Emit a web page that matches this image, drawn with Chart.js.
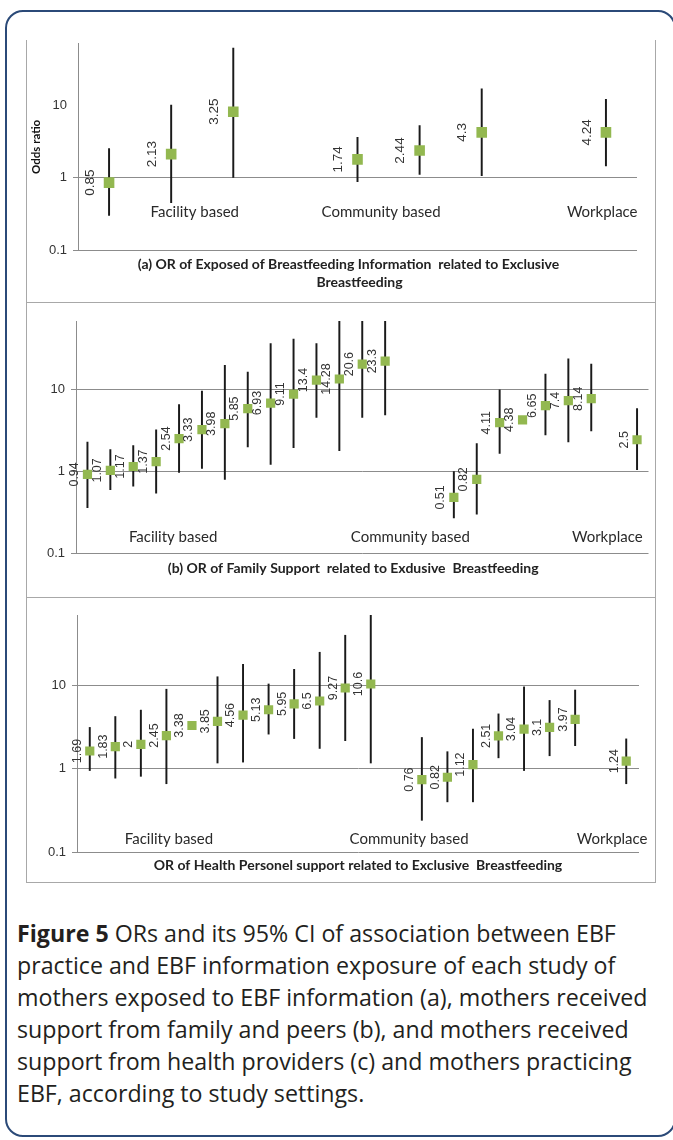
<!DOCTYPE html>
<html>
<head>
<meta charset="utf-8">
<script src="https://cdn.jsdelivr.net/npm/chart.js"></script>
<style>
  body { margin: 0; background: #fff; width: 673px; height: 1140px; overflow: hidden; position: relative; }
  .card { position: absolute; left: 5px; top: 10px; width: 671px; height: 1127px; box-sizing: border-box;
          border: 2px solid #2b4a78; border-radius: 18px; }
  .box { position: absolute; left: 26px; width: 630px; box-sizing: border-box; border: 1px solid #a8a8a8; }
  canvas { position: absolute; }
  .caption { position: absolute; left: 17px; top: 917px; font-family: "Open Sans", Lato, sans-serif; font-size: 23.2px;
             line-height: 32px; color: #231f20; white-space: nowrap; }
</style>
</head>
<body>
<div class="card"></div>
<div class="box" style="top:40px;height:263px;border-top:none"></div>
<div class="box" style="top:302px;height:296px"></div>
<div class="box" style="top:597px;height:286px"></div>
<canvas id="chartA" width="629" height="272" style="left:26px;top:30px"></canvas>
<canvas id="chartB" width="629" height="294" style="left:26px;top:303px"></canvas>
<canvas id="chartC" width="629" height="284" style="left:26px;top:598px"></canvas>
<div class="caption"><b>Figure 5</b> ORs and its 95% CI of association between EBF<br>practice and EBF information exposure of each study of<br>mothers exposed to EBF information (a), mothers received<br>support from family and peers (b), and mothers received<br>support from health providers (c) and mothers practicing<br>EBF, according to study settings.</div>
<script>
// (a) exposure to breastfeeding information
var aStudies = ['F1', 'F2', 'F3', '', 'C1', 'C2', 'C3', '', 'W1'];
var aOR   = [0.85, 2.1, 8.1, null, 1.78, 2.36, 4.2, null, 4.2];
var aLow  = [0.30, 0.45, 1.0, null, 0.88, 1.1, 1.06, null, 1.45];
var aHigh = [2.5, 10, 61, null, 3.6, 5.2, 16.8, null, 12];
var aText = ['0.85', '2.13', '3.25', '', '1.74', '2.44', '4.3', '', '4.24'];

// (b) family support
var bStudies = ['F1','F2','F3','F4','F5','F6','F7','F8','F9','F10','F11','F12','F13','F14','','',
                'C1','C2','C3','C4','C5','C6','C7','','W1'];
var bOR   = [0.92, 1.03, 1.15, 1.32, 2.53, 3.25, 3.85, 5.9, 6.9, 8.9, 13.2, 13.6, 20.7, 22.5, null, null,
             0.48, 0.80, 3.96, 4.3, 6.4, 7.4, 7.8, null, 2.45];
var bLow  = [0.36, 0.60, 0.66, 0.54, 0.97, 1.09, 0.80, 2.0, 1.22, 1.96, 4.6, 1.8, 4.6, 4.95, null, null,
             0.27, 0.30, 1.66, 4.0, 2.8, 2.3, 3.15, null, 1.05];
var bHigh = [2.3, 1.85, 2.07, 3.25, 6.6, 9.7, 20, 16.6, 37, 42, 37, 70, 70, 70, null, null,
             1.0, 2.2, 10, 4.7, 15.6, 24, 20.7, null, 5.9];
var bText = ['0.94','1.07','1.17','1.37','2.54','3.33','3.98','5.85','6.93','9.11','13.4','14.28','20.6','23.3','','',
             '0.51','0.82','4.11','4.38','6.65','7.4','8.14','','2.5'];

// (c) health personnel support
var cStudies = ['F1','F2','F3','F4','F5','F6','F7','F8','F9','F10','F11','F12','',
                'C1','C2','C3','C4','C5','C6','C7','','W1'];
var cOR   = [1.63, 1.84, 1.96, 2.5, 3.3, 3.7, 4.4, 5.1, 6.0, 6.5, 9.3, 10.4, null,
             0.74, 0.79, 1.12, 2.48, 2.99, 3.13, 3.9, null, 1.23];
var cLow  = [0.95, 0.77, 0.81, 0.66, 3.0, 1.17, 1.2, 2.6, 2.3, 1.75, 2.17, 1.17, null,
             0.24, 0.40, 0.40, 1.35, 0.95, 1.43, 1.89, null, 0.66];
var cHigh = [3.13, 4.23, 5.05, 9.0, 3.6, 12.7, 17.9, 10.4, 15.6, 25, 40, 70, null,
             2.37, 1.6, 2.99, 4.55, 9.6, 6.6, 8.8, null, 2.28];
var cText = ['1.69','1.83','2','2.45','3.38','3.85','4.56','5.13','5.95','6.5','9.27','10.6','',
             '0.76','0.82','1.12','2.51','3.04','3.1','3.97','','1.24'];

var yTicks = [0.1, 1, 10];

// draws the rotated value labels, setting names and panel title
var panelText = {
    id: 'panelText',
    afterDatasetsDraw: function(chart, args, opts) {
        var ctx = chart.ctx, area = chart.chartArea;
        var x = chart.scales.x, y = chart.scales.y;
        ctx.save();
        ctx.fillStyle = '#333';
        ctx.font = opts.labelFont;
        ctx.textAlign = 'center';
        ctx.textBaseline = 'middle';
        chart.getDatasetMeta(0).data.forEach(function(pt, i) {
            var t = opts.texts[i];
            if (!t) return;
            ctx.save();
            ctx.translate(pt.x - opts.labelOffset, pt.y);
            ctx.rotate(-Math.PI / 2);
            ctx.fillText(t, 0, 0);
            ctx.restore();
        });
        ctx.fillStyle = '#2a2a2a';
        ctx.font = '15px Lato';
        opts.groups.forEach(function(g) {
            ctx.fillText(g.text, x.getPixelForValue(g.at), y.getPixelForValue(g.value));
        });
        ctx.fillStyle = '#222';
        ctx.font = 'bold 14px Lato';
        opts.title.forEach(function(line, k) {
            ctx.fillText(line, (area.left + area.right) / 2 + opts.titleDx[k], area.bottom + opts.titleDy + k * 18);
        });
        ctx.restore();
    }
};

function makePanel(id, p) {
    var ctx = document.getElementById(id).getContext('2d');
    return new Chart(ctx, {
        type: 'bar',
        data: {
            labels: p.labels,
            datasets: [{
                type: 'line',
                label: 'OR',
                data: p.or,
                showLine: false,
                pointStyle: 'rect',
                pointRadius: p.r,
                pointHoverRadius: p.r,
                backgroundColor: '#93b850',
                borderColor: '#93b850',
                borderWidth: 0,
                order: 0
            }, {
                type: 'bar',
                label: '95% CI',
                data: p.low.map(function(v, i) { return v == null ? null : [v, p.high[i]]; }),
                backgroundColor: '#1a1a1a',
                barThickness: 1.3,
                order: 1
            }]
        },
        options: {
            responsive: false,
            animation: false,
            layout: { padding: p.padding },
            plugins: {
                legend: { display: false },
                tooltip: { enabled: false },
                panelText: {
                    texts: p.texts,
                    labelFont: p.labelFont,
                    labelOffset: p.labelOffset,
                    groups: p.groups,
                    title: p.title,
                    titleDx: p.titleDx,
                    titleDy: p.titleDy
                }
            },
            scales: {
                x: { display: false, offset: true },
                y: {
                    type: 'logarithmic',
                    min: 0.1,
                    max: 70,
                    afterBuildTicks: function(s) { s.ticks = yTicks.map(function(v) { return { value: v }; }); },
                    afterFit: function(s) { s.width = p.axisW; },
                    ticks: {
                        callback: function(v) { return String(v); },
                        color: '#333',
                        font: { family: 'Liberation Sans', size: 13 },
                        padding: 6
                    },
                    grid: {
                        color: function(c) {
                            return (p.hide10 && c.tick && c.tick.value === 10) ? 'rgba(0,0,0,0)' : '#8c8c8c';
                        },
                        tickLength: 5,
                        lineWidth: 1
                    },
                    border: { color: '#8c8c8c' },
                    title: {
                        display: !!p.yTitle,
                        text: p.yTitle,
                        color: '#111',
                        font: { family: 'Lato', size: 11.5, weight: 'bold' },
                        padding: 3
                    }
                }
            }
        },
        plugins: [panelText]
    });
}

makePanel('chartA', {
    labels: aStudies, or: aOR, low: aLow, high: aHigh, texts: aText,
    r: 7.5, labelFont: '13.5px Liberation Sans', labelOffset: 19,
    padding: { left: 0, right: 18, top: 10, bottom: 52 }, axisW: 52, hide10: true,
    yTitle: 'Odds ratio',
    groups: [
        { text: 'Facility based', at: 1.38, value: 0.33 },
        { text: 'Community based', at: 4.38, value: 0.33 },
        { text: 'Workplace', at: 7.94, value: 0.33 }
    ],
    title: ['(a) OR of Exposed of Breastfeeding Information  related to Exclusive', 'Breastfeeding'],
    titleDx: [-9, 2], titleDy: 14
});

makePanel('chartB', {
    labels: bStudies, or: bOR, low: bLow, high: bHigh, texts: bText,
    r: 6.5, labelFont: '12.5px Liberation Sans', labelOffset: 13,
    padding: { left: 0, right: 1, top: 18, bottom: 44 }, axisW: 50, hide10: false,
    groups: [
        { text: 'Facility based', at: 3.74, value: 0.157 },
        { text: 'Community based', at: 14.1, value: 0.157 },
        { text: 'Workplace', at: 22.7, value: 0.157 }
    ],
    title: ['(b) OR of Family Support  related to Exdusive  Breastfeeding'],
    titleDx: [-9], titleDy: 15
});

makePanel('chartC', {
    labels: cStudies, or: cOR, low: cLow, high: cHigh, texts: cText,
    r: 6.5, labelFont: '12.5px Liberation Sans', labelOffset: 12,
    padding: { left: 0, right: 16, top: 17, bottom: 30 }, axisW: 51, hide10: false,
    groups: [
        { text: 'Facility based', at: 3.1, value: 0.144 },
        { text: 'Community based', at: 12.5, value: 0.144 },
        { text: 'Workplace', at: 20.45, value: 0.144 }
    ],
    title: ['OR of Health Personel support related to Exclusive  Breastfeeding'],
    titleDx: [0], titleDy: 13
});
</script>
</body>
</html>
